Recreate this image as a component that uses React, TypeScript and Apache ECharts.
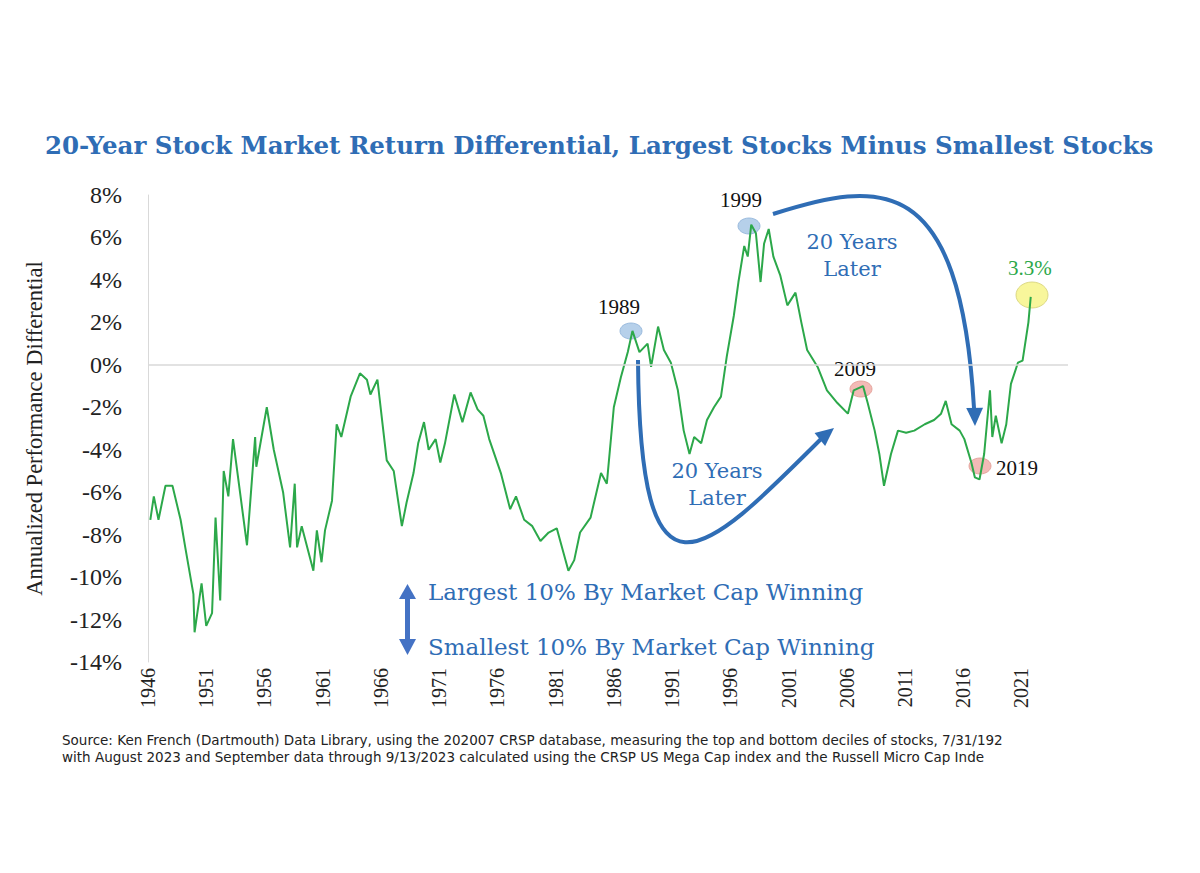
import React, { useEffect, useRef } from "react";
import * as echarts from "echarts";

const years = [1946.2,1946.5,1946.9,1947.5,1948.1,1948.8,1949.2,1949.9,1950.0,1950.6,1951.0,1951.5,1951.8,1952.2,1952.5,1952.9,1953.3,1953.9,1954.5,1955.2,1955.3,1956.2,1956.8,1957.6,1958.2,1958.6,1958.8,1959.2,1960.2,1960.5,1960.9,1961.2,1961.8,1962.2,1962.6,1963.4,1964.2,1964.8,1965.1,1965.7,1966.5,1967.1,1967.8,1968.2,1968.8,1969.2,1969.7,1970.1,1970.7,1971.1,1971.5,1972.3,1973.0,1973.7,1974.3,1974.8,1975.3,1976.3,1977.1,1977.6,1978.3,1979.0,1979.7,1980.4,1981.1,1981.7,1982.1,1982.6,1983.1,1984.0,1984.9,1985.4,1986.0,1986.6,1987.2,1987.6,1988.2,1988.9,1989.2,1989.8,1990.3,1990.9,1991.5,1992.0,1992.5,1992.9,1993.5,1994.0,1994.6,1995.2,1995.7,1996.3,1996.7,1997.2,1997.5,1997.8,1998.2,1998.6,1998.9,1999.3,1999.7,2000.3,2000.9,2001.6,2002.1,2002.6,2003.5,2004.3,2005.2,2006.1,2006.6,2007.4,2007.8,2008.4,2008.8,2009.2,2009.8,2010.4,2011.1,2011.8,2012.7,2013.5,2014.1,2014.5,2015.0,2015.7,2016.1,2016.7,2017.0,2017.4,2017.8,2018.3,2018.5,2018.8,2019.3,2019.7,2020.1,2020.7,2021.1,2021.6,2021.8];
const values = [-7.3,-6.2,-7.3,-5.7,-5.7,-7.3,-8.6,-10.8,-12.6,-10.3,-12.3,-11.7,-7.2,-11.1,-5.0,-6.2,-3.5,-6.0,-8.5,-3.4,-4.8,-2.0,-4.0,-6.0,-8.6,-5.6,-8.6,-7.6,-9.7,-7.8,-9.3,-7.8,-6.4,-2.8,-3.4,-1.5,-0.4,-0.7,-1.4,-0.7,-4.5,-5.0,-7.6,-6.5,-5.1,-3.7,-2.7,-4.0,-3.5,-4.6,-3.7,-1.4,-2.7,-1.3,-2.1,-2.4,-3.5,-5.1,-6.8,-6.2,-7.3,-7.6,-8.3,-7.9,-7.7,-8.9,-9.7,-9.2,-7.9,-7.2,-5.1,-5.6,-2.0,-0.6,0.6,1.6,0.6,1.0,-0.1,1.8,0.7,0.1,-1.2,-3.1,-4.2,-3.4,-3.7,-2.6,-2.0,-1.5,0.4,2.3,3.9,5.6,5.1,6.6,6.2,3.9,5.7,6.4,5.1,4.2,2.8,3.4,2.0,0.7,-0.1,-1.2,-1.8,-2.3,-1.2,-1.0,-1.8,-3.1,-4.2,-5.7,-4.2,-3.1,-3.2,-3.1,-2.8,-2.6,-2.3,-1.7,-2.8,-3.1,-3.5,-4.6,-5.3,-5.4,-4.2,-1.2,-3.4,-2.4,-3.7,-2.8,-0.9,0.1,0.2,2.0,3.2];
const yTicks = [8, 6, 4, 2, 0, -2, -4, -6, -8, -10, -12, -14];
const xTickYears = [1946,1951,1956,1961,1966,1971,1976,1981,1986,1991,1996,2001,2006,2011,2016,2021];

const BLUE = "#2f6db5";
const SERIF = "'Liberation Serif', 'DejaVu Serif', serif";
const TSERIF = "'DejaVu Serif', serif";

export default function App() {
  const ref = useRef<HTMLDivElement>(null);
  useEffect(() => {
    const chart = echarts.init(ref.current!, null, { renderer: "svg" });
    const arrowHead = (x: number, y: number, ang: number, s = 14) => {
      const c = Math.cos(ang), sn = Math.sin(ang);
      const p = (dx: number, dy: number) => [x + dx * c - dy * sn, y + dx * sn + dy * c];
      return { type: "polygon", shape: { points: [p(0, 0), p(-s * 1.3, -s * 0.6), p(-s * 1.3, s * 0.6)] }, style: { fill: BLUE } };
    };
    chart.setOption({
      animation: false,
      grid: { left: 148, top: 195, right: 132, bottom: 211, containLabel: false },
      xAxis: {
        type: "value", min: 1946, max: 2025, interval: 5,
        axisLine: { show: false }, axisTick: { show: false }, splitLine: { show: false },
        axisLabel: {
          rotate: 90, fontFamily: SERIF, fontSize: 20, color: "#222", margin: 6,
          formatter: (v: number) => (xTickYears.includes(v) ? String(v) : ""),
        },
      },
      yAxis: {
        type: "value", min: -14, max: 8, interval: 2,
        axisLine: { show: true, lineStyle: { color: "#d9d9d9" } }, axisTick: { show: false },
        splitLine: { show: false },
        axisLabel: { fontFamily: SERIF, fontSize: 24, color: "#222", margin: 26,
          formatter: (v: number) => (yTicks.includes(v) ? v + "%" : "") },
        name: "Annualized Performance Differential", nameLocation: "middle", nameGap: 102,
        nameTextStyle: { fontFamily: SERIF, fontSize: 22.5, color: "#222" },
      },
      series: [{
        type: "line", data: years.map((y, i) => [y, values[i]]), showSymbol: false,
        lineStyle: { color: "#2ca84a", width: 2 },
        markLine: { silent: true, symbol: "none", label: { show: false },
          lineStyle: { color: "#d9d9d9", type: "solid", width: 1.5 }, data: [{ yAxis: 0 }] },
      }],
      graphic: [
        { type: "text", x: 45, y: 133, style: { text: "20-Year Stock Market Return Differential, Largest Stocks Minus Smallest Stocks", fill: BLUE, font: `bold 24.5px ${TSERIF}` } },
        { type: "ellipse", shape: { cx: 631, cy: 331, rx: 11, ry: 8 }, style: { fill: "#a9c8e6", stroke: "#8fb3d9", opacity: 0.85 } },
        { type: "ellipse", shape: { cx: 749, cy: 226, rx: 11, ry: 8 }, style: { fill: "#a9c8e6", stroke: "#8fb3d9", opacity: 0.85 } },
        { type: "ellipse", shape: { cx: 861, cy: 389, rx: 11, ry: 8 }, style: { fill: "#f0a9a4", stroke: "#e09890", opacity: 0.8 } },
        { type: "ellipse", shape: { cx: 980, cy: 466, rx: 11, ry: 8 }, style: { fill: "#f0a9a4", stroke: "#e09890", opacity: 0.8 } },
        { type: "ellipse", shape: { cx: 1032, cy: 295, rx: 16, ry: 13 }, style: { fill: "#f7f58a", stroke: "#d6d27a", opacity: 0.85 } },
        { type: "text", x: 598, y: 296, style: { text: "1989", fill: "#111", font: `21px ${SERIF}` } },
        { type: "text", x: 720, y: 189, style: { text: "1999", fill: "#111", font: `21px ${SERIF}` } },
        { type: "text", x: 834, y: 358, style: { text: "2009", fill: "#111", font: `21px ${SERIF}` } },
        { type: "text", x: 996, y: 457, style: { text: "2019", fill: "#111", font: `21px ${SERIF}` } },
        { type: "text", x: 1008, y: 257, style: { text: "3.3%", fill: "#2ca84a", font: `21px ${SERIF}` } },
        { type: "text", x: 852, y: 228, style: { text: "20 Years\nLater", fill: BLUE, font: `21px ${TSERIF}`, align: "center", lineHeight: 27 } },
        { type: "text", x: 717, y: 457, style: { text: "20 Years\nLater", fill: BLUE, font: `21px ${TSERIF}`, align: "center", lineHeight: 27 } },
        { type: "bezierCurve", shape: { x1: 638, y1: 360, cpx1: 640, cpy1: 620, cpx2: 700, cpy2: 560, x2: 822, y2: 438 }, style: { stroke: BLUE, lineWidth: 4, fill: "none" } },
        arrowHead(834, 428, -0.68),
        { type: "bezierCurve", shape: { x1: 773, y1: 214, cpx1: 880, cpy1: 180, cpx2: 960, cpy2: 170, x2: 974, y2: 408 }, style: { stroke: BLUE, lineWidth: 4, fill: "none" } },
        arrowHead(975, 426, 1.55),
        { type: "rect", shape: { x: 405, y: 596, width: 5, height: 46 }, style: { fill: "#4472c4" } },
        { type: "polygon", shape: { points: [[407.5, 584], [399, 599], [416, 599]] }, style: { fill: "#4472c4" } },
        { type: "polygon", shape: { points: [[407.5, 655], [399, 639], [416, 639]] }, style: { fill: "#4472c4" } },
        { type: "text", x: 428, y: 580, style: { text: "Largest 10% By Market Cap Winning", fill: BLUE, font: `23px ${TSERIF}` } },
        { type: "text", x: 428, y: 635, style: { text: "Smallest 10% By Market Cap Winning", fill: BLUE, font: `23px ${TSERIF}` } },
        { type: "text", x: 62, y: 733, style: { text: "Source: Ken French (Dartmouth) Data Library, using the 202007 CRSP database, measuring the top and bottom deciles of stocks, 7/31/192", fill: "#222", font: `13.5px 'DejaVu Sans', sans-serif` } },
        { type: "text", x: 62, y: 750, style: { text: "with August 2023 and September data through 9/13/2023 calculated using the CRSP US Mega Cap index and the Russell Micro Cap Inde", fill: "#222", font: `13.5px 'DejaVu Sans', sans-serif` } },
      ],
    });
    return () => chart.dispose();
  }, []);
  return <div ref={ref} style={{ position: "absolute", left: 0, top: 0, width: 1200, height: 873, background: "#fff" }} />;
}
